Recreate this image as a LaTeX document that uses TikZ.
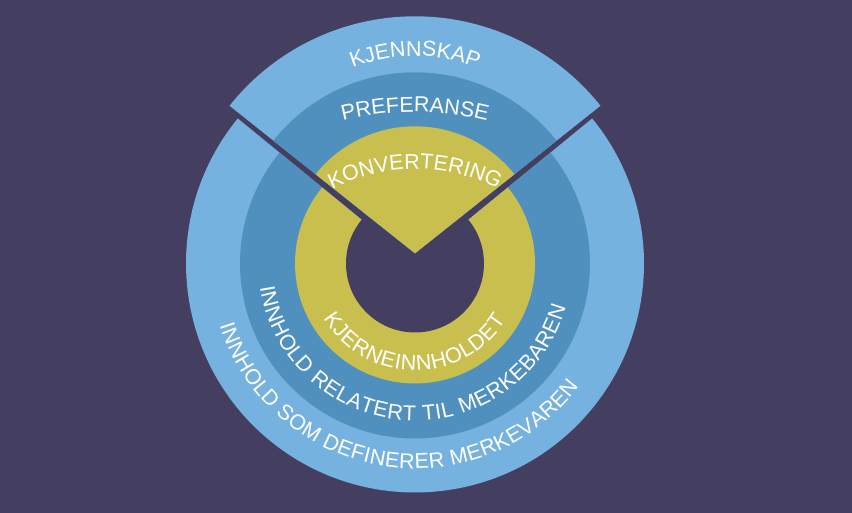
\documentclass[tikz,border=0pt]{standalone}
\usepackage{fontspec}
\setmainfont{Liberation Sans}
\usetikzlibrary{decorations.text}
\definecolor{bgc}{HTML}{443F61}
\definecolor{lightb}{HTML}{75B2E0}
\definecolor{midb}{HTML}{4F90BF}
\definecolor{yell}{HTML}{C9BF4F}
\newcommand\ringtxt{\fontsize{21.5}{21.5}\selectfont\color{white}}
\tikzset{
  ringtext/.style={decorate, decoration={text along path, text={|\ringtxt|#1}, text align=center}},
  fittext/.style={decorate, decoration={text along path, text={|\ringtxt|#1}, text align=fit to path}}
}
\begin{document}
\begin{tikzpicture}[x=1pt,y=1pt]
\useasboundingbox (0,0) rectangle (852,513);
\fill[bgc] (0,0) rectangle (852,513);
\coordinate (C) at (415,249.5);
\coordinate (A) at (415,259.7);
% ring (cut sector)
\fill[lightb] (C) -- ++(140.7:229) arc[start angle=140.7, end angle=399.3, radius=229] -- cycle;
\fill[midb] (C) -- ++(140.7:175) arc[start angle=140.7, end angle=399.3, radius=175] -- cycle;
\fill[yell] (C) -- ++(140.7:120) arc[start angle=140.7, end angle=399.3, radius=120] -- cycle;
\fill[bgc] (C) circle[radius=69];
% wedge
\fill[lightb] (A) -- ++(38.5:237) arc[start angle=38.5, end angle=141.5, radius=237] -- cycle;
\fill[midb] (A) -- ++(38.5:181) arc[start angle=38.5, end angle=141.5, radius=181] -- cycle;
\fill[yell] (A) -- ++(38.5:127) arc[start angle=38.5, end angle=141.5, radius=127] -- cycle;
% top labels
\coordinate (T1) at (415,287);
\coordinate (T2) at (415,101);
\coordinate (T3) at (415,164);
\path[ringtext=KJENNSKAP] (T1) ++(140:170) arc[start angle=140, end angle=40, radius=170];
\path[ringtext=PREFERANSE] (T2) ++(120:300) arc[start angle=120, end angle=60, radius=300];
\path[ringtext=KONVERTERING] (T3) ++(140:180) arc[start angle=140, end angle=40, radius=180];
% bottom labels
\path[fittext=KJERNEINNHOLDET] (C) ++(211:107) arc[start angle=211, end angle=328, radius=107];
\path[fittext=INNHOLD RELATERT TIL MERKEBAREN] (C) ++(188.7:157) arc[start angle=188.7, end angle=344, radius=157];
\path[fittext=INNHOLD SOM DEFINERER MERKEVAREN] (C) ++(197.6:205) arc[start angle=197.6, end angle=323.2, radius=205];
\end{tikzpicture}
\end{document}
